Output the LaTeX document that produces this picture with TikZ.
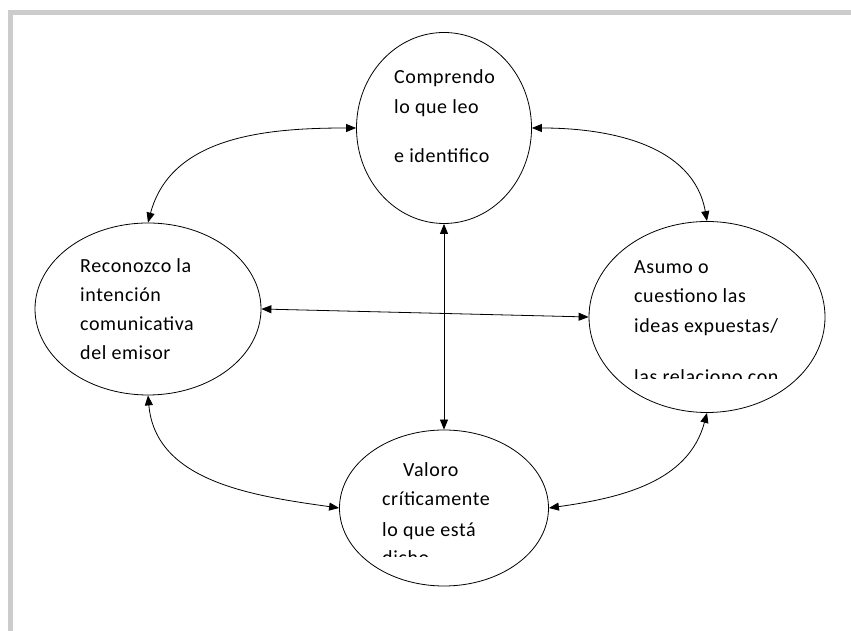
\documentclass[tikz,border=0pt]{standalone}
\usepackage{fontspec}
\setmainfont{Carlito}[LetterSpace=3.0]
\usetikzlibrary{shapes.geometric,arrows.meta}

\begin{document}
\begin{tikzpicture}[x=1pt,y=1pt,
  bubble/.style={draw,ellipse,inner sep=0pt,line width=0.8pt},
  link/.style={{Triangle[length=10pt,width=8pt]}-{Triangle[length=10pt,width=8pt]},line width=0.8pt},
  txt/.style={anchor=base west,inner sep=0pt,font=\fontsize{20}{24}\selectfont}]
\useasboundingbox (0,0) rectangle (851,631);
% frame
\fill[gray!40] (8,0) rectangle (13,621);
\fill[gray!40] (8,616) rectangle (851,621);
% the four ellipses
\node[bubble,minimum width=175pt,minimum height=191pt] (comp) at (444,503) {};
\node[bubble,minimum width=226pt,minimum height=172pt] (reco) at (148,322) {};
\node[bubble,minimum width=236pt,minimum height=191pt] (asum) at (707,314) {};
\node[bubble,minimum width=209pt,minimum height=156pt] (valo) at (444,123) {};
% texts
\node[txt] (comp1) at (394,547) {Comprendo};
\node[txt] (comp2) at (394,517) {lo que leo};
\node[txt] (comp3) at (394,468) {e identifico};
\node[txt] (reco1) at (80,358) {Reconozco la};
\node[txt] (reco2) at (80,329) {intención};
\node[txt] (reco3) at (80,300) {comunicativa};
\node[txt] (reco4) at (80,271) {del emisor};
\node[txt] (asum1) at (634,357) {Asumo o};
\node[txt] (asum2) at (634,328) {cuestiono las};
\node[txt] (asum3) at (634,298) {ideas expuestas/};
\begin{scope}
\clip (600,252) rectangle (820,290);
\node[txt] (asum4) at (634,247) {las relaciono con};
\end{scope}
\node[txt] (valo1) at (403,154) {Valoro};
\node[txt] (valo2) at (382,125) {críticamente};
\node[txt] (valo3) at (382,94) {lo que está};
\begin{scope}
\clip (360,74) rectangle (530,90);
\node[txt] (valo4) at (382,66) {dicho};
\end{scope}
% connectors
\draw[link] (reco.north) to[out=75,in=180] (comp.west);
\draw[link] (comp.east) to[out=0,in=100] (asum.north);
\draw[link] (comp.south) -- (valo.north);
\draw[link] (reco.east) -- (asum.west);
\draw[link] (reco.south) to[out=-85,in=172] (valo.west);
\draw[link] (asum.south) to[out=-105,in=8] (valo.east);
\end{tikzpicture}
\end{document}
